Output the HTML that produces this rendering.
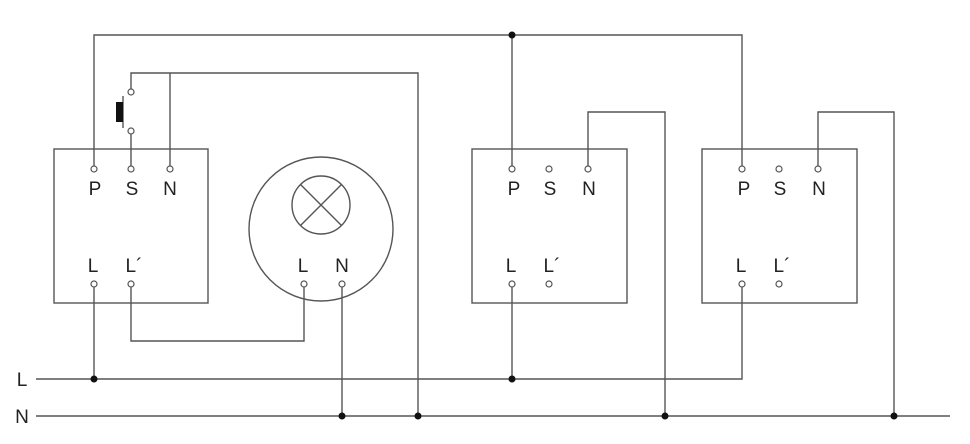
<!DOCTYPE html>
<html><head><style>body{margin:0;background:#fff}svg{display:block}text{font-family:"Liberation Sans",sans-serif;font-size:19px;fill:#222}</style></head><body>
<svg width="970" height="444" viewBox="0 0 970 444">
<g fill="none" stroke="#555" stroke-width="1.4">
<rect x="54" y="149" width="154" height="154"/>
<rect x="472" y="149" width="155" height="154"/>
<rect x="702" y="149" width="155" height="154"/>
<circle cx="321" cy="229" r="72"/>
<circle cx="321" cy="205" r="29"/>
<line x1="300.5" y1="184.5" x2="341.5" y2="225.5"/><line x1="341.5" y1="184.5" x2="300.5" y2="225.5"/>
<polyline points="94,166 94,35 742,35 742,166"/>
<line x1="512" y1="35" x2="512" y2="166"/>
<polyline points="131,166 131,134"/>
<polyline points="131,89 131,73 418,73 418,416"/>
<line x1="170" y1="73" x2="170" y2="166"/>
<line x1="123" y1="96" x2="123" y2="128"/>
<polyline points="94,287 94,379"/>
<polyline points="131,287 131,341 304,341 304,287"/>
<line x1="342" y1="287" x2="342" y2="416"/>
<polyline points="512,287 512,379"/>
<polyline points="742,287 742,379 36,379"/>
<polyline points="588,166 588,112 665,112 665,416"/>
<polyline points="818,166 818,112 894,112 894,416"/>
<line x1="36" y1="416" x2="950" y2="416"/>
</g>
<rect x="116" y="102" width="7" height="20" fill="#111"/>
<g fill="#fff" stroke="#555" stroke-width="1.2">
<circle cx="131" cy="92" r="3"/><circle cx="131" cy="131" r="3"/>
<circle cx="94" cy="169" r="3"/><circle cx="131" cy="169" r="3"/><circle cx="170" cy="169" r="3"/>
<circle cx="94" cy="284" r="3"/><circle cx="131" cy="284" r="3"/>
<circle cx="304" cy="284" r="3"/><circle cx="342" cy="284" r="3"/>
<circle cx="512" cy="169" r="3"/><circle cx="549" cy="169" r="3"/><circle cx="588" cy="169" r="3"/>
<circle cx="512" cy="284" r="3"/><circle cx="549" cy="284" r="3"/>
<circle cx="742" cy="169" r="3"/><circle cx="779" cy="169" r="3"/><circle cx="818" cy="169" r="3"/>
<circle cx="742" cy="284" r="3"/><circle cx="779" cy="284" r="3"/>
</g>
<g fill="#111">
<circle cx="512" cy="35" r="3.5"/><circle cx="94" cy="379" r="3.5"/><circle cx="512" cy="379" r="3.5"/>
<circle cx="342" cy="416" r="3.5"/><circle cx="418" cy="416" r="3.5"/><circle cx="665" cy="416" r="3.5"/><circle cx="894" cy="416" r="3.5"/>
</g>
<g text-anchor="middle">
<text x="95" y="195">P</text><text x="132" y="195">S</text><text x="170" y="195">N</text>
<text x="93" y="272">L</text><text x="134" y="272">L´</text>
<text x="303" y="272">L</text><text x="342" y="272">N</text>
<text x="514" y="195">P</text><text x="550" y="195">S</text><text x="589" y="195">N</text>
<text x="511" y="272">L</text><text x="552" y="272">L´</text>
<text x="744" y="195">P</text><text x="780" y="195">S</text><text x="819" y="195">N</text>
<text x="741" y="272">L</text><text x="782" y="272">L´</text>
<text x="22" y="386">L</text><text x="22" y="423">N</text>
</g>
</svg>
</body></html>
